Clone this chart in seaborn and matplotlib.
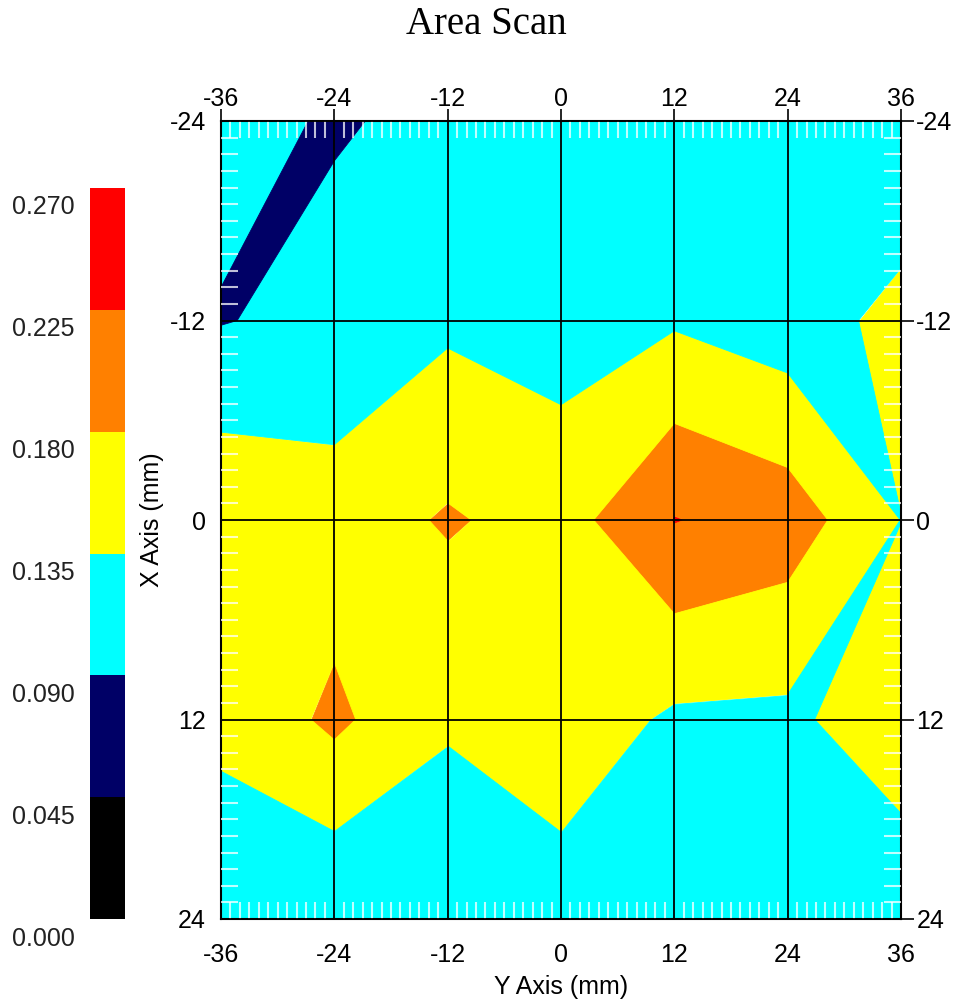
import numpy as np
import seaborn as sns
import matplotlib.pyplot as plt
from matplotlib.colors import ListedColormap, BoundaryNorm
from matplotlib.cm import ScalarMappable
from matplotlib.collections import PolyCollection
from matplotlib.ticker import MultipleLocator
from matplotlib.transforms import ScaledTranslation

# SCAN GRID (mm) AND MEASURED VALUES, ROWS ARE X AXIS POSITIONS, COLUMNS ARE Y AXIS POSITIONS
y_axis_pos = [-36, -24, -12, 0, 12, 24, 36]
x_axis_pos = [-24, -12, 0, 12, 24]

row_m24 = [0.100, 0.087, 0.098, 0.110, 0.115, 0.105, 0.093]
row_m12 = [0.088, 0.102, 0.127, 0.116, 0.130, 0.110, 0.150]
row_0 = [0.172, 0.155, 0.185, 0.161, 0.227, 0.205, 0.1345]
row_12 = [0.142, 0.190, 0.137, 0.165, 0.127, 0.125, 0.167]
row_24 = [0.115, 0.092, 0.122, 0.112, 0.110, 0.105, 0.099]

levels = [0.000, 0.045, 0.090, 0.135, 0.180, 0.225, 0.270]
level_colors = ["#000000", "#000066", "#00ffff", "#ffff00", "#ff8000", "#ff0000"]

sns.set_style("white")
plt.rcParams['font.family'] = ['Liberation Sans', 'DejaVu Sans']
plt.rcParams['axes.unicode_minus'] = False
for key in ['text.color', 'axes.labelcolor', 'xtick.color', 'ytick.color']:
    plt.rcParams[key] = 'black'

Z = np.array([row_m24, row_m12, row_0, row_12, row_24])
palette = sns.color_palette(level_colors)
cmap = ListedColormap(palette)
norm = BoundaryNorm(levels, cmap.N)


# PART OF ONE GRID CELL THAT FALLS IN [lo, hi), EDGES LINEARLY INTERPOLATED (MARCHING SQUARES)
def band_polygon(pts, vals, lo, hi):
    out = []
    for k in range(4):
        p0, p1 = pts[k], pts[(k + 1) % 4]
        v0, v1 = vals[k], vals[(k + 1) % 4]
        if lo <= v0 < hi:
            out.append(p0)
        cuts = sorted((lev - v0) / (v1 - v0) for lev in (lo, hi) if (v0 - lev) * (v1 - lev) < 0)
        for t in cuts:
            out.append((p0[0] + t * (p1[0] - p0[0]), p0[1] + t * (p1[1] - p0[1])))
    return out if len(out) >= 3 else None


fig = plt.figure(figsize=(9.54, 10.06), dpi=100)
ax = fig.add_axes([221 / 954, 87 / 1006, 680 / 954, 798 / 1006])
cax = fig.add_axes([90 / 954, 87 / 1006, 35 / 954, 731 / 1006])

# HIGH BANDS FIRST SO LOW VALUES STAY CONNECTED IN SADDLE CELLS
for b in range(len(levels) - 2, -1, -1):
    polys = []
    for j in range(len(x_axis_pos) - 1):
        for i in range(len(y_axis_pos) - 1):
            pts = [(y_axis_pos[i], x_axis_pos[j]), (y_axis_pos[i + 1], x_axis_pos[j]),
                   (y_axis_pos[i + 1], x_axis_pos[j + 1]), (y_axis_pos[i], x_axis_pos[j + 1])]
            vals = [Z[j, i], Z[j, i + 1], Z[j + 1, i + 1], Z[j + 1, i]]
            poly = band_polygon(pts, vals, levels[b], levels[b + 1])
            if poly:
                polys.append(poly)
    if polys:
        ax.add_collection(PolyCollection(polys, facecolor=palette[b], edgecolor=palette[b],
                                         linewidth=0.6, zorder=1))

ax.set_xlim(-36, 36)
ax.set_ylim(24, -24)
ax.set_axisbelow(False)
ax.set_xticks(y_axis_pos)
ax.set_yticks(x_axis_pos)
ax.xaxis.set_minor_locator(MultipleLocator(1))
ax.yaxis.set_minor_locator(MultipleLocator(1))
ax.grid(which='major', color='black', linewidth=1.3)
ax.tick_params(which='major', direction='out', length=9, width=1.2, color='black',
               top=True, right=True, labeltop=True, labelright=True, labelsize=18)
ax.tick_params(axis='x', which='major', pad=3)
ax.tick_params(axis='y', which='major', pad=2)
ax.tick_params(which='minor', direction='in', length=12, width=1.5, color=(1, 1, 1, 0.75),
               top=True, right=True, bottom=True, left=True)
for s in ax.spines.values():
    s.set_color('black')
    s.set_linewidth(1.5)

# X TICK LABELS SIT A LITTLE LOWER THAN THE DEFAULT PAD
down = ScaledTranslation(0, -7 / 100, fig.dpi_scale_trans)
for t in ax.xaxis.get_major_ticks():
    t.label1.set_transform(t.label1.get_transform() + down)
    t.label2.set_transform(t.label2.get_transform() + down)

ax.set_xlabel('Y Axis (mm)', fontsize=18, labelpad=6)
ax.set_ylabel('X Axis (mm)', fontsize=18, labelpad=4)

fig.text(0.51, 1 - 24 / 1006, 'Area Scan', ha='center', va='center',
         fontsize=28, family=['Liberation Serif', 'DejaVu Serif'])

# COLOR SCALE ON THE LEFT, LABELS SIT SLIGHTLY BELOW EACH LEVEL BOUNDARY
sm = ScalarMappable(norm=norm, cmap=cmap)
cb = fig.colorbar(sm, cax=cax, ticks=levels)
cb.outline.set_visible(False)
cax.yaxis.set_ticks_position('left')
cax.set_yticklabels([f'{v:.3f}' for v in levels])
cax.tick_params(length=0, pad=11, labelsize=18, labelcolor='#222222')
offset = ScaledTranslation(0, -17 / 100, fig.dpi_scale_trans)
for lbl in cax.get_yticklabels():
    lbl.set_transform(lbl.get_transform() + offset)

fig.savefig('out.png', dpi=100)
